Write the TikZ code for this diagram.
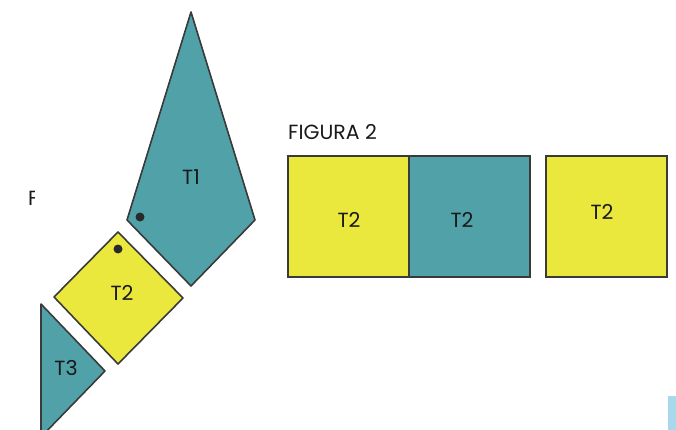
\documentclass[tikz,border=0pt]{standalone}
\usepackage{fontspec}
\setmainfont{Poppins}
\definecolor{tealfill}{HTML}{50A2A8}
\definecolor{yellowfill}{HTML}{EBE83D}
\definecolor{bluefill}{HTML}{A8D8EC}
\definecolor{edge}{HTML}{3A3A3A}
\tikzset{
  tealpiece/.style={draw=edge,fill=tealfill,line width=1.6pt,line join=round},
  yellowpiece/.style={draw=edge,fill=yellowfill,line width=1.6pt,line join=round},
  tealsq/.style={tealpiece,line width=2.6pt,line join=miter},
  yellowsq/.style={yellowpiece,line width=2.6pt,line join=miter},
  lab/.style={inner sep=0pt,font=\fontsize{20.5}{20.5}\selectfont,text=black!90},
  dotmark/.style={circle,fill=edge!70!black,inner sep=0pt,minimum size=9pt}
}
\begin{document}
\begin{tikzpicture}[x=1pt,y=-1pt]
\useasboundingbox (0,0) rectangle (676,430);
\clip (0,0) rectangle (676,430);
\draw[tealpiece] (191,12) -- (255,220) -- (191,286) -- (127,220) -- cycle;
\draw[yellowpiece] (118,232) -- (183,298) -- (118,364) -- (54,297) -- cycle;
\draw[tealpiece] (41,304) -- (105,371) -- (41,437) -- cycle;
\draw[yellowsq] (288,156) rectangle (409,277);
\draw[tealsq] (409,156) rectangle (530,277);
\draw[yellowsq] (546,156) rectangle (667,277);
\fill[bluefill] (668,396) rectangle (676,430);
\node[dotmark] (d1) at (140,217) {};
\node[dotmark] (d2) at (118,249) {};
\node[lab] (t1) at (191,177) {T1};
\node[lab] (t2a) at (122,293) {T2};
\node[lab] (t3) at (66,368) {T3};
\node[lab] (t2b) at (349,220) {T2};
\node[lab] (t2c) at (462,220) {T2};
\node[lab] (t2d) at (602,212) {T2};
\node[lab,anchor=base west] (fig) at (288,140) {FIGURA 2};
\begin{scope}
\clip (25,185) rectangle (34,212);
\node[lab,anchor=base west] (figa) at (28,206) {F};
\end{scope}
\end{tikzpicture}
\end{document}
